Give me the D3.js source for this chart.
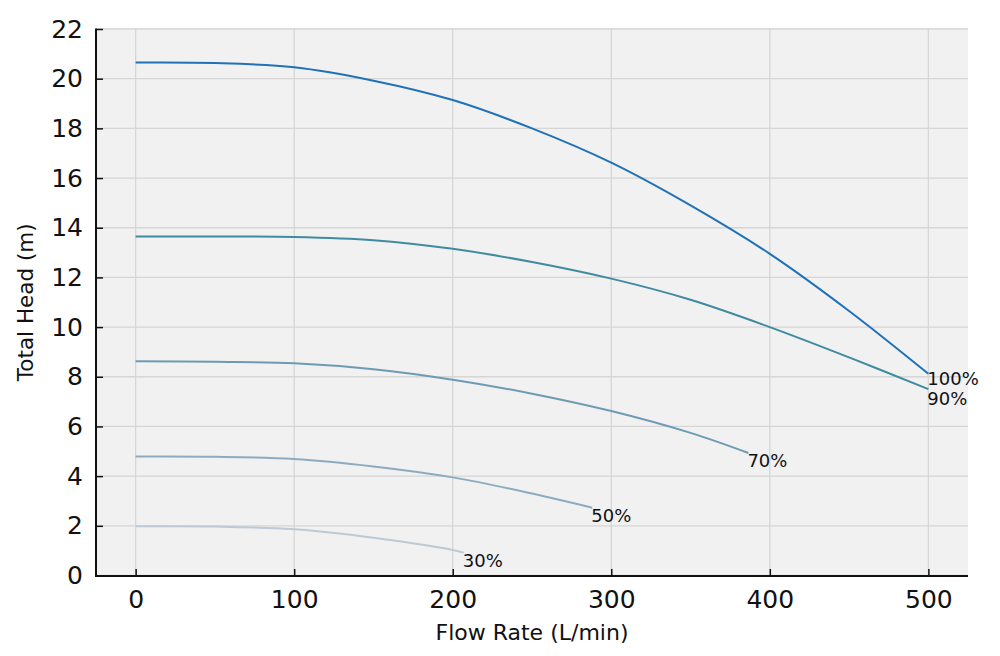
<!DOCTYPE html>
<html>
<head>
<meta charset="utf-8">
<script src="https://cdn.jsdelivr.net/npm/d3@7"></script>
<style>
  html, body { margin: 0; padding: 0; background: #ffffff; }
  svg { display: block; }
  text { font-family: "DejaVu Sans", sans-serif; fill: #111; }
</style>
</head>
<body>
<svg id="chart" width="1000" height="656"></svg>
<script>
// ---- data ----
const xTicks = [0, 100, 200, 300, 400, 500];
const yTicks = [0, 2, 4, 6, 8, 10, 12, 14, 16, 18, 20, 22];
const seriesNames = ["100%", "90%", "70%", "50%", "30%"];
const flow100 = [0, 50, 100, 150, 200, 250, 300, 350, 400, 450, 500];
const head100 = [20.65, 20.63, 20.46, 19.92, 19.14, 18.0, 16.62, 14.9, 12.95, 10.65, 8.12];
const flow90 = [0, 50, 100, 150, 200, 250, 300, 350, 400, 450, 500];
const head90 = [13.65, 13.65, 13.63, 13.5, 13.15, 12.62, 11.95, 11.1, 10.0, 8.78, 7.5];
const flow70 = [0, 50, 100, 150, 200, 250, 300, 350, 386.5];
const head70 = [8.62, 8.6, 8.54, 8.3, 7.88, 7.32, 6.62, 5.74, 4.93];
const flow50 = [0, 50, 100, 150, 200, 250, 288];
const head50 = [4.79, 4.78, 4.69, 4.39, 3.95, 3.3, 2.73];
const flow30 = [0, 50, 100, 150, 200, 207];
const head30 = [1.98, 1.97, 1.86, 1.52, 1.03, 0.92];
const colors = ["#1f72b8", "#3f8b9f", "#6e9bb4", "#8dabbf", "#bccad5"];
const xTitle = "Flow Rate (L/min)";
const yTitle = "Total Head (m)";

const series = [
  { name: seriesNames[0], flow: flow100, head: head100, color: colors[0], dy: 11 },
  { name: seriesNames[1], flow: flow90, head: head90, color: colors[1], dy: 16 },
  { name: seriesNames[2], flow: flow70, head: head70, color: colors[2], dy: 14 },
  { name: seriesNames[3], flow: flow50, head: head50, color: colors[3], dy: 14 },
  { name: seriesNames[4], flow: flow30, head: head30, color: colors[4], dy: 14 }
];

// ---- layout ----
const pL = 96, pR = 968, pT = 28.5, pB = 576;
const svg = d3.select("#chart");
const x = d3.scaleLinear().domain([-25, 525]).range([pL, pR]);
const y = d3.scaleLinear().domain([0, 22]).range([575.5, 29]);

svg.append("rect").attr("x", pL).attr("y", pT)
  .attr("width", pR - pL).attr("height", pB - pT)
  .attr("fill", "#f1f1f1");

// grid
const grid = svg.append("g");
grid.selectAll("line.gx").data(xTicks).join("line")
  .attr("x1", d => x(d)).attr("x2", d => x(d))
  .attr("y1", pT).attr("y2", pB)
  .attr("stroke", "#d6d6d6").attr("stroke-width", 1.3);
grid.selectAll("line.gy").data(yTicks).join("line")
  .attr("y1", d => y(d)).attr("y2", d => y(d))
  .attr("x1", pL).attr("x2", pR)
  .attr("stroke", "#d6d6d6").attr("stroke-width", 1.3);

// lines
const line = d3.line().curve(d3.curveCatmullRom.alpha(0.5))
  .x(d => x(d[0])).y(d => y(d[1]));
series.forEach(s => {
  const pts = s.flow.map((f, i) => [f, s.head[i]]);
  svg.append("path").attr("d", line(pts))
    .attr("fill", "none").attr("stroke", s.color).attr("stroke-width", 2);
  const last = pts[pts.length - 1];
  svg.append("text")
    .attr("x", x(last[0]) - 1)
    .attr("y", y(last[1]) + s.dy)
    .attr("font-size", 18)
    .text(s.name);
});

// axes
const xAxis = d3.axisBottom(x).tickValues(xTicks).tickSize(-7).tickPadding(14).tickFormat(d3.format("d"));
const yAxis = d3.axisLeft(y).tickValues(yTicks).tickSize(-7).tickPadding(13).tickFormat(d3.format("d"));

const gx = svg.append("g").attr("transform", `translate(0,${pB})`).call(xAxis);
const gy = svg.append("g").attr("transform", `translate(${pL},0)`).call(yAxis);
[gx, gy].forEach(g => {
  g.select(".domain").remove();
  g.selectAll(".tick line").attr("stroke", "#111").attr("stroke-width", 1.5);
  g.selectAll(".tick text").attr("font-size", 25).attr("font-family", "DejaVu Sans, sans-serif").attr("fill", "#111");
});

// spines
svg.append("line").attr("x1", pL).attr("x2", pL).attr("y1", pT).attr("y2", pB + 1)
  .attr("stroke", "#111").attr("stroke-width", 2);
svg.append("line").attr("x1", pL - 1).attr("x2", pR).attr("y1", pB).attr("y2", pB)
  .attr("stroke", "#111").attr("stroke-width", 2);

// titles
svg.append("text").attr("x", (pL + pR) / 2).attr("y", 640)
  .attr("text-anchor", "middle").attr("font-size", 22).text(xTitle);
svg.append("text").attr("transform", `translate(33,${(pT + pB) / 2}) rotate(-90)`)
  .attr("text-anchor", "middle").attr("font-size", 21.5).text(yTitle);
</script>
</body>
</html>
